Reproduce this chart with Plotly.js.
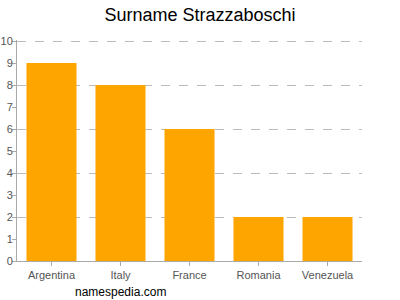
<!DOCTYPE html>
<html>
<head>
<script src="https://cdn.plot.ly/plotly-3.0.1.min.js"></script>
<style>html,body{margin:0;padding:0;background:#fff;}#chart{width:400px;height:300px;}</style>
</head>
<body>
<div id="chart"></div>
<script>
const countries = ["Argentina", "Italy", "France", "Romania", "Venezuela"];
const counts = [9, 8, 6, 2, 2];
const yTicks = [0, 1, 2, 3, 4, 5, 6, 7, 8, 9, 10];
const gridTicks = [2, 4, 6, 8, 10];

const font = "Liberation Sans, Arial, sans-serif";
const yRange = [0, 10.05];
const data = [{
  type: "bar",
  x: countries,
  y: counts,
  marker: {color: "#FFA500"},
  hoverinfo: "none"
}, {
  type: "scatter", mode: "none", x: countries, y: counts, yaxis: "y2", hoverinfo: "none", showlegend: false
}];
const layout = {
  width: 400, height: 300,
  margin: {l: 17, r: 38, t: 40, b: 39},
  paper_bgcolor: "#fff", plot_bgcolor: "rgba(0,0,0,0)",
  showlegend: false,
  bargap: 0.275,
  title: {text: "Surname Strazzaboschi", font: {family: font, size: 18, color: "#000"}, x: 0.5, xanchor: "center", y: 0.95, yanchor: "middle"},
  xaxis: {
    showline: true, linecolor: "#aaa", linewidth: 1,
    ticks: "outside", ticklen: 4, tickcolor: "#aaa",
    tickfont: {family: font, size: 11, color: "#555"},
    showgrid: false, fixedrange: true
  },
  yaxis: {
    range: yRange, tickvals: yTicks, ticktext: yTicks.map(String),
    showline: true, linecolor: "#aaa", linewidth: 1,
    ticks: "outside", ticklen: 4, tickcolor: "#aaa",
    ticklabelstandoff: -3,
    tickfont: {family: font, size: 11, color: "#555"},
    showgrid: false, zeroline: false, fixedrange: true
  },
  yaxis2: {
    overlaying: "y", range: yRange, tickvals: gridTicks, showticklabels: false,
    showgrid: true, gridcolor: "#bbb", griddash: "dash", gridwidth: 1,
    zeroline: false, showline: false, ticks: "", fixedrange: true
  },
  annotations: [{
    text: "namespedia.com", xref: "paper", yref: "paper", x: 0.3, y: -0.14,
    xanchor: "center", yanchor: "middle", showarrow: false,
    font: {family: font, size: 12, color: "#000"}
  }]
};
Plotly.newPlot("chart", data, layout, {displayModeBar: false, staticPlot: true});
</script>
</body>
</html>
